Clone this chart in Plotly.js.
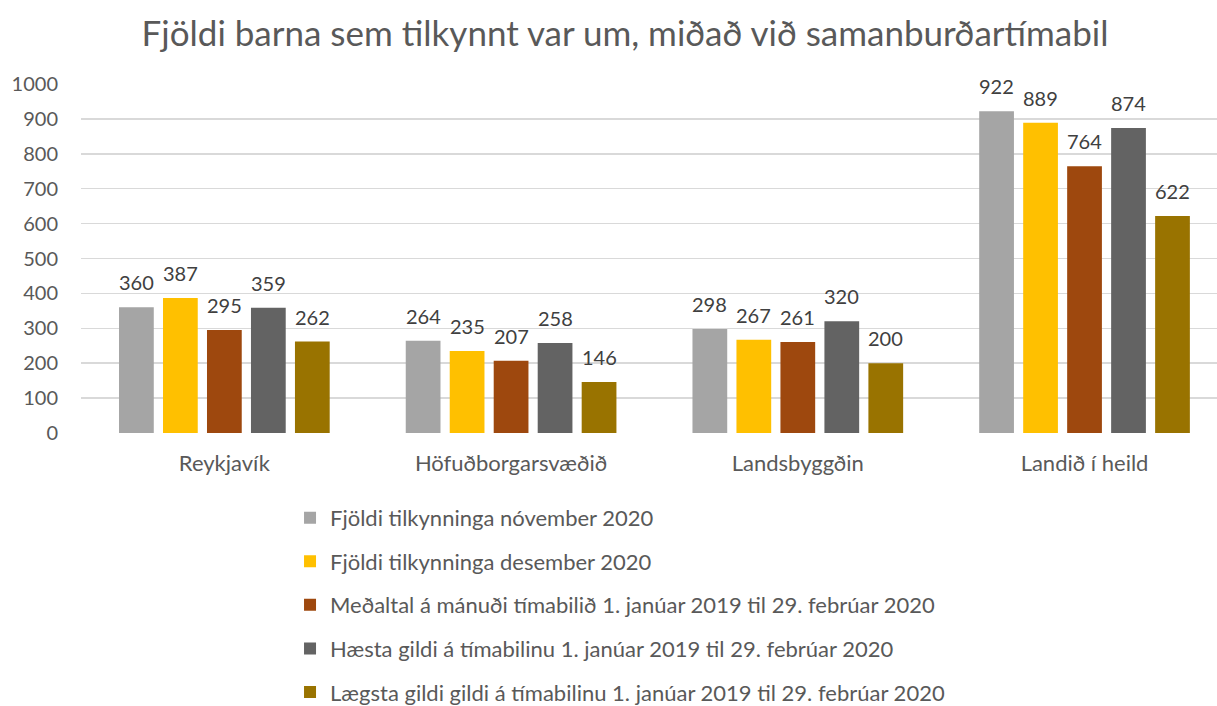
<!DOCTYPE html>
<html>
<head>
<meta charset="utf-8">
<script src="https://cdn.plot.ly/plotly-3.0.1.min.js"></script>
<style>
  html, body { margin: 0; padding: 0; background: #fff; overflow: hidden; }
  #chart { width: 1217px; height: 740px; }
</style>
</head>
<body>
<div id="chart"></div>
<script>
const categories = ["Reykjavík", "Höfuðborgarsvæðið", "Landsbyggðin", "Landið í heild"];
const seriesNames = [
  "Fjöldi tilkynninga nóvember 2020",
  "Fjöldi tilkynninga desember 2020",
  "Meðaltal á mánuði tímabilið 1. janúar 2019 til 29. febrúar 2020",
  "Hæsta gildi á tímabilinu 1. janúar 2019 til 29. febrúar 2020",
  "Lægsta gildi gildi á tímabilinu 1. janúar 2019 til 29. febrúar 2020"
];
const november2020 = [360, 264, 298, 922];
const desember2020 = [387, 235, 267, 889];
const medaltal = [295, 207, 261, 764];
const haestaGildi = [359, 258, 320, 874];
const laegstaGildi = [262, 146, 200, 622];
const seriesValues = [november2020, desember2020, medaltal, haestaGildi, laegstaGildi];
const colors = ["#A5A5A5", "#FFC000", "#9E480E", "#636363", "#997300"];
const yTicks = [0, 100, 200, 300, 400, 500, 600, 700, 800, 900, 1000];

const FONT = "Lato, 'Open Sans', sans-serif";
const BARGAP = 0.233;
const nSeries = seriesValues.length;

const traces = seriesValues.map((vals, i) => ({
  type: "bar",
  name: seriesNames[i],
  x: categories,
  y: vals,
  marker: { color: colors[i], line: { width: 0 } },
  legendgroup: "g" + i,
  hoverinfo: "skip"
}));

// data labels placed through the axis scales, above each bar of the group
const slot = (1 - BARGAP) / nSeries;
const annotations = [];
seriesValues.forEach((vals, i) => {
  vals.forEach((v, j) => {
    annotations.push({
      xref: "x", yref: "y",
      x: j + (i - (nSeries - 1) / 2) * slot,
      y: v,
      text: String(v),
      showarrow: false,
      yanchor: "middle",
      xanchor: "center",
      yshift: 25,
      font: { family: FONT, size: 20, color: "#404040" }
    });
  });
});

const layout = {
  width: 1217,
  height: 740,
  paper_bgcolor: "#ffffff",
  plot_bgcolor: "#ffffff",
  margin: { l: 81, r: 0, t: 84, b: 307 },
  font: { family: FONT, color: "#595959" },
  title: {
    text: "Fjöldi barna sem tilkynnt var um, miðað við samanburðartímabil",
    font: { family: FONT, size: 35, color: "#595959" },
    x: 0.5136, xref: "container", xanchor: "center",
    y: 0.955, yref: "container", yanchor: "middle"
  },
  barmode: "group",
  bargap: BARGAP,
  bargroupgap: 0.21,
  xaxis: {
    type: "category",
    range: [-0.5, 3.462],
    showgrid: false,
    zeroline: false,
    showline: false,
    ticks: "",
    ticklabelstandoff: 15,
    tickfont: { family: FONT, size: 22, color: "#595959" }
  },
  yaxis: {
    range: [0, 1000],
    tickvals: yTicks,
    ticktext: yTicks.map(String),
    showgrid: true,
    gridcolor: "#D9D9D9",
    gridwidth: 1.5,
    zeroline: false,
    showline: false,
    ticks: "",
    ticklabelstandoff: 22,
    tickfont: { family: FONT, size: 20, color: "#595959" }
  },
  annotations: annotations,
  showlegend: true,
  legend: {
    orientation: "v",
    x: 0.184, xanchor: "left",
    y: -0.183, yanchor: "top",
    traceorder: "grouped",
    tracegroupgap: 12,
    font: { family: FONT, size: 22, color: "#595959" },
    bgcolor: "rgba(0,0,0,0)",
    itemclick: false,
    itemdoubleclick: false
  },
  hovermode: false
};

Plotly.newPlot("chart", traces, layout, { staticPlot: true, displayModeBar: false });
</script>
</body>
</html>
